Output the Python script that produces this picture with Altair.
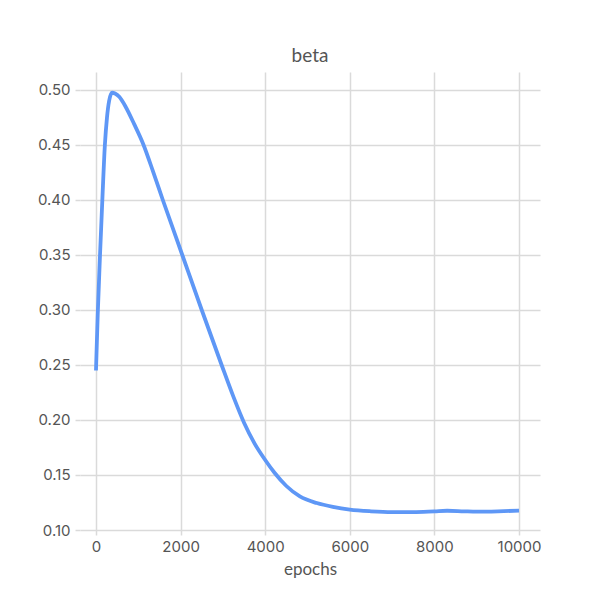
import altair as alt
import pandas as pd

epochs = [0, 40, 95, 150, 210, 260, 310, 380, 450, 550, 700, 900, 1120, 1350,
          1580, 2040, 2500, 2970, 3250, 3500, 3750, 4000, 4220, 4500, 4820, 5220,
          5600, 6000, 6500, 7000, 7500, 8000, 8300, 8700, 9000, 9500, 10000]
beta = [0.245, 0.295, 0.35, 0.40, 0.45, 0.475, 0.490, 0.4975, 0.4968, 0.4938,
        0.4848, 0.4692, 0.4505, 0.4258, 0.40, 0.35, 0.30, 0.25, 0.221, 0.1975,
        0.1785, 0.1636, 0.152, 0.140, 0.1305, 0.1245, 0.121, 0.1185, 0.1170,
        0.1163, 0.1163, 0.1170, 0.1175, 0.1170, 0.1167, 0.1170, 0.1176]
x_ticks = [0, 2000, 4000, 6000, 8000, 10000]
y_ticks = [0.10, 0.15, 0.20, 0.25, 0.30, 0.35, 0.40, 0.45, 0.50]

df = pd.DataFrame({"epochs": epochs, "beta": beta})

grid = "#dadada"
text = "#555555"

chart = alt.Chart(df).mark_line(
    color="#5e97f6", strokeWidth=3.8, interpolate="monotone", clip=True
).encode(
    x=alt.X("epochs:Q",
            scale=alt.Scale(domain=[-378, 10496], nice=False, zero=False),
            axis=alt.Axis(values=x_ticks, title="epochs", format="d",
                          grid=True, gridColor=grid, gridWidth=1.5,
                          domain=False, tickColor=grid, tickWidth=1.5, tickSize=5,
                          labelFont="Inter", labelFontSize=15, labelColor=text,
                          labelPadding=4, titleFont="Lato", titleFontSize=17,
                          titleFontWeight="normal", titleColor=text, titlePadding=7)),
    y=alt.Y("beta:Q",
            scale=alt.Scale(domain=[0.10, 0.51636], nice=False, zero=False),
            axis=alt.Axis(values=y_ticks, title=None, format=".2f",
                          grid=True, gridColor=grid, gridWidth=1.5,
                          domain=False, tickColor=grid, tickWidth=1.5, tickSize=5,
                          labelFont="Inter", labelFontSize=15, labelColor=text,
                          labelPadding=5)),
).properties(
    width=460, height=458,
    title=alt.TitleParams("beta", font="Lato", fontSize=19, fontWeight="normal",
                          color=text, offset=6),
    autosize=alt.AutoSizeParams(type="none"),
    padding={"left": 72, "top": 64, "right": 40, "bottom": 70},
).configure_view(stroke=None)

chart.save("out.html", embed_options={"renderer": "svg", "actions": False})
